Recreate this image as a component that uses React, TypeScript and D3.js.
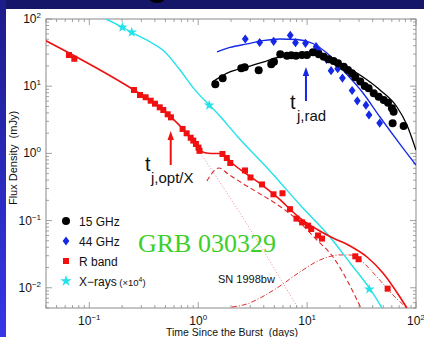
import React from "react";
import * as d3 from "d3";

const W = 424,
  H = 337;
const margin = { left: 46, right: 8, top: 19, bottom: 29 };

// observed points: [days, mJy]
const radio15 = [
  [1.435, 10.7], [1.677, 13.1], [2.486, 18.5], [2.671, 19.1], [3.592, 17.2],
  [4.687, 21.2], [4.962, 23.2], [5.668, 29.8], [6.53, 28.4], [7.15, 28.8],
  [7.9, 28.4], [8.97, 29.1], [9.97, 29.1], [11.3, 31.9], [12.8, 29.8],
  [14.2, 27.5], [15.8, 25.1], [17.5, 23.7], [19.2, 21.9], [21.7, 19.5],
  [23.7, 17.4], [25.8, 15.6], [27.7, 13.6], [30.8, 11.7], [33.8, 10.1],
  [36.7, 9.3], [40.9, 7.84], [45.4, 6.98], [50.5, 6.23], [55.3, 5.68],
  [60.1, 4.69], [62.3, 4.17], [61.0, 2.8], [77.0, 2.56],
];
const radio44 = [
  [2.705, 50.4], [3.667, 44.7], [4.93, 46.6], [7.0, 57.2], [7.82, 44.4],
  [9.66, 43.5], [12.1, 38.7], [12.8, 33.4], [15.1, 25.1], [16.6, 17.0],
  [19.1, 18.2], [21.1, 13.2], [25.9, 8.63], [28.9, 6.06], [34.7, 5.22],
  [37.0, 3.73], [46.4, 2.83],
];
const rBand = [
  [0.065, 29.1], [0.0728, 25.6], [0.257, 8.78], [0.292, 7.4], [0.329, 6.84],
  [0.366, 6.08], [0.401, 5.49], [0.443, 4.85], [0.478, 4.42], [0.524, 3.82],
  [0.562, 3.44], [0.719, 2.31], [0.783, 1.99], [0.853, 1.71], [0.901, 1.55],
  [0.953, 1.38], [1.006, 1.22], [1.027, 1.09], [1.67, 0.98], [1.83, 0.854],
  [1.97, 0.72], [2.69, 0.557], [3.02, 0.438], [3.85, 0.345], [4.91, 0.246],
  [5.94, 0.255], [6.96, 0.148], [7.99, 0.107], [9.0, 0.094], [10.2, 0.084],
  [10.9, 0.075], [12.6, 0.06], [13.7, 0.054], [27.7, 0.0294], [29.7, 0.0266],
  [54.9, 0.0097],
];
const xrays = [
  [0.201, 75.2], [0.245, 63.4], [1.26, 5.2], [37.2, 0.0095],
];

// model curves
const model15 = [
  [1.34, 11.5], [1.957, 16.3], [2.8, 19.3], [3.93, 22.9], [5.63, 27.2],
  [8.07, 30.1], [10.6, 30.9], [15.2, 27.5], [21.3, 20.7], [32.6, 13.7],
  [46.7, 8.78], [66.9, 4.9], [82.6, 2.65], [99.9, 1.12],
];
const model44 = [
  [1.487, 32.3], [1.957, 37.7], [2.8, 42.5], [3.93, 47.5], [5.63, 50.4],
  [8.07, 49.5], [11.3, 43.2], [15.2, 31.2], [21.3, 17.4], [32.6, 7.92],
  [46.7, 3.48], [75.9, 1.2], [99.9, 0.672],
];
const modelR = [
  [0.04, 47.5], [0.257, 8.78], [0.4455, 4.9], [0.562, 3.48], [0.709, 2.39],
  [0.876, 1.58], [0.995, 1.2], [1.13, 1.03], [1.34, 0.997], [1.58, 0.997],
  [1.8, 0.884], [2.04, 0.72], [2.69, 0.511], [3.85, 0.339], [5.4, 0.217],
  [8.6, 0.109], [13.1, 0.07], [17.3, 0.0551], [24.8, 0.0419], [35.5, 0.0287],
  [49.7, 0.0166], [71.2, 0.0073], [82.6, 0.005],
];
const modelRjet1 = [
  [1.016, 1.09], [2.69, 0.0986], [8.24, 0.005],
];
const modelRjet2 = [
  [1.2, 0.388], [1.55, 0.606], [1.88, 0.494], [2.69, 0.339], [3.85, 0.24],
  [5.4, 0.171], [7.74, 0.109], [12.3, 0.0514], [17.3, 0.0287], [23.2, 0.0131],
  [31.2, 0.005],
];
const modelSN = [
  [2.04, 0.00518], [2.8, 0.00574], [3.85, 0.0073], [5.63, 0.01063],
  [8.6, 0.0172], [13.1, 0.0259], [20.0, 0.0308], [24.8, 0.0308],
  [30.6, 0.0259], [43.8, 0.0145], [61.4, 0.0078], [82.6, 0.005],
];
const modelX = [
  [0.142, 100], [0.2, 76], [0.241, 64], [0.361, 45.5], [0.495, 32.3],
  [0.68, 17.4], [0.933, 8.8], [1.26, 5.25], [1.52, 3.86], [2.27, 1.82],
  [4.56, 0.547], [8.97, 0.159], [16.2, 0.057], [24.8, 0.0234], [37.8, 0.0096],
  [48.7, 0.005],
];

// break-time arrows: [days, from mJy, to mJy]
const arrowOpt = [0.559, 0.672, 2.15];
const arrowRad = [9.76, 6.02, 19.3];

const xTickExps = [-1, 0, 1, 2];
const yTickExps = [-2, -1, 0, 1, 2];
const legendLabels = ["15 GHz", "44 GHz", "R band", "X\u2212rays"];

const FONT = "'Liberation Sans', Arial, Helvetica, sans-serif";
const RED = "#f01010";
const BLUE = "#1428e6";
const CYAN = "#22e2ea";

const sup = (e: number) => (e < 0 ? "\u2212" + Math.abs(e) : String(e));

export default function App() {
  const x = d3
    .scaleLog()
    .domain([0.04, 100])
    .range([margin.left, W - margin.right]);
  const y = d3
    .scaleLog()
    .domain([0.005, 100])
    .range([H - margin.bottom, margin.top]);

  const line = d3
    .line<number[]>()
    .x((d) => x(d[0]))
    .y((d) => y(d[1]))
    .curve(d3.curveMonotoneX);

  const x0 = margin.left,
    x1 = W - margin.right,
    y0 = H - margin.bottom,
    y1 = margin.top;

  const isMajor = (v: number) =>
    Math.abs(Math.log10(v) - Math.round(Math.log10(v))) < 1e-6;

  const star = d3.symbol(d3.symbolStar, 34)();
  const starLg = d3.symbol(d3.symbolStar, 40)();
  const diamond = "M0,-4.6L3.4,0L0,4.6L-3.4,0Z";

  const arrow = (a: number[], color: string) => {
    const ax = x(a[0]);
    const yb = y(a[1]);
    const yt = y(a[2]);
    return (
      <g>
        <line x1={ax} x2={ax} y1={yb} y2={yt + 7} stroke={color} strokeWidth={2} />
        <path d={`M${ax},${yt}L${ax + 3.2},${yt + 9}L${ax - 3.2},${yt + 9}Z`} fill={color} />
      </g>
    );
  };

  const legendY = [221, 241, 261, 281];

  return (
    <svg
      width={W}
      height={H}
      style={{ position: "absolute", left: 0, top: 0 }}
      fontFamily={FONT}
    >
      <defs>
        <linearGradient id="edge" x1="0" y1="0" x2="0" y2="1">
          <stop offset="0" stopColor="#1c1c8a" />
          <stop offset="1" stopColor="#3636e8" />
        </linearGradient>
        <clipPath id="plot">
          <rect x={x0} y={y1} width={x1 - x0} height={y0 - y1} />
        </clipPath>
      </defs>

      {/* slide background */}
      <rect width={W} height={H} fill="#15166a" />
      <rect width={6} height={H} fill="url(#edge)" />
      <ellipse cx={157} cy={-4} rx={9} ry={7} fill="#000" />
      <rect x={6} y={9} width={W - 6} height={H - 9} fill="#fff" />

      {/* axes frame and ticks */}
      <rect x={x0} y={y1} width={x1 - x0} height={y0 - y1} fill="none" stroke="#8a8a8a" strokeWidth={1} />
      {x.ticks().map((v, i) => {
        const len = isMajor(v) ? 6 : 3;
        const px = x(v);
        return (
          <g key={"xt" + i} stroke="#8a8a8a" strokeWidth={0.8}>
            <line x1={px} x2={px} y1={y0} y2={y0 - len} />
            <line x1={px} x2={px} y1={y1} y2={y1 + len} />
          </g>
        );
      })}
      {y.ticks().map((v, i) => {
        const len = isMajor(v) ? 6 : 3;
        const py = y(v);
        return (
          <g key={"yt" + i} stroke="#8a8a8a" strokeWidth={0.8}>
            <line x1={x0} x2={x0 + len} y1={py} y2={py} />
            <line x1={x1} x2={x1 - len} y1={py} y2={py} />
          </g>
        );
      })}
      {xTickExps.map((e) => (
        <text key={"xl" + e} x={x(Math.pow(10, e))} y={324.5} fontSize={12} textAnchor="middle" fill="#111">
          10
          <tspan dy={-5} fontSize={8}>
            {sup(e)}
          </tspan>
        </text>
      ))}
      {yTickExps.map((e) => (
        <text key={"yl" + e} x={41} y={y(Math.pow(10, e)) + 4} fontSize={12} textAnchor="end" fill="#111">
          10
          <tspan dy={-5} fontSize={8}>
            {sup(e)}
          </tspan>
        </text>
      ))}
      <text x={232} y={336} fontSize={10.5} textAnchor="middle" fill="#111" style={{ whiteSpace: "pre" }}>
        {"Time Since the Burst  (days)"}
      </text>
      <text
        transform="translate(17,158) rotate(-90)"
        fontSize={11}
        textAnchor="middle"
        fill="#111"
        style={{ whiteSpace: "pre" }}
      >
        {"Flux Density  (mJy)"}
      </text>

      {/* model curves */}
      <g clipPath="url(#plot)" fill="none">
        <path d={line(modelRjet1) || ""} stroke="#f08a8a" strokeWidth={1} strokeDasharray="1,2" />
        <path d={line(modelSN) || ""} stroke="#e03030" strokeWidth={1} strokeDasharray="5,2,1,2" />
        <path d={line(modelRjet2) || ""} stroke="#e02828" strokeWidth={1.1} strokeDasharray="5,3" />
        <path d={line(modelX) || ""} stroke={CYAN} strokeWidth={1.4} />
        <path d={line(modelR) || ""} stroke={RED} strokeWidth={1.6} />
        <path d={line(model44) || ""} stroke={BLUE} strokeWidth={1.3} />
        <path d={line(model15) || ""} stroke="#000" strokeWidth={1.3} />
      </g>

      {/* data points */}
      <g clipPath="url(#plot)">
        {rBand.map((d, i) => (
          <rect key={"r" + i} x={x(d[0]) - 3} y={y(d[1]) - 3} width={6} height={6} fill={RED} />
        ))}
        {xrays.map((d, i) => (
          <path key={"x" + i} d={star || ""} transform={`translate(${x(d[0])},${y(d[1])})`} fill={CYAN} />
        ))}
        {radio44.map((d, i) => (
          <path key={"b" + i} d={diamond} transform={`translate(${x(d[0])},${y(d[1])})`} fill={BLUE} />
        ))}
        {radio15.map((d, i) => (
          <circle key={"k" + i} cx={x(d[0])} cy={y(d[1])} r={4} fill="#000" />
        ))}
      </g>

      {/* annotations */}
      {arrow(arrowOpt, RED)}
      {arrow(arrowRad, BLUE)}
      <text x={145} y={171} fontSize={20} fill="#111">t</text>
      <text x={151} y={183} fontSize={15} fill="#111">j,opt/X</text>
      <text x={290} y={109} fontSize={20} fill="#111">t</text>
      <text x={297} y={121} fontSize={15} fill="#111">j,rad</text>
      <text x={138} y={252} fontSize={26} fill="#3ccf2a" fontFamily="'Liberation Serif', 'Times New Roman', serif">
        GRB 030329
      </text>
      <text x={218} y={283} fontSize={11} fill="#111">SN 1998bw</text>

      {/* legend */}
      <circle cx={66} cy={legendY[0]} r={4} fill="#000" />
      <path d={diamond} transform={`translate(66,${legendY[1]})`} fill={BLUE} />
      <rect x={63} y={legendY[2] - 3} width={6} height={6} fill={RED} />
      <path d={starLg || ""} transform={`translate(66,${legendY[3]})`} fill={CYAN} />
      {legendLabels.map((l, i) => (
        <text key={"lg" + i} x={79} y={legendY[i] + 4.5} fontSize={12} fill="#111">
          {l}
          {i === 3 ? (
            <tspan fontSize={9.5}>
              {" (\u00d710"}
              <tspan dy={-4} fontSize={7}>4</tspan>
              <tspan dy={4}>)</tspan>
            </tspan>
          ) : null}
        </text>
      ))}
    </svg>
  );
}
